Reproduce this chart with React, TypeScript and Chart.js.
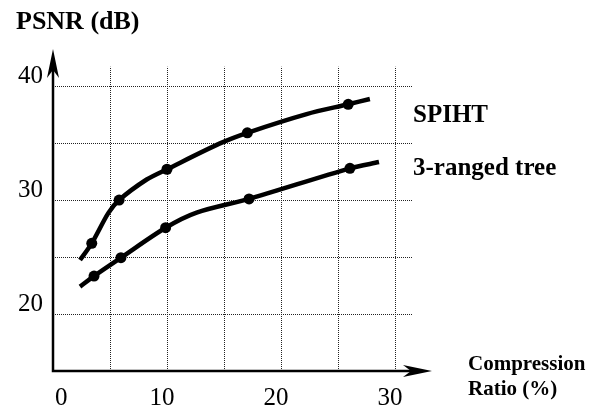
import React, { useEffect, useRef } from "react";
import { Chart, registerables } from "chart.js";

Chart.register(...registerables);

// ---- data ----
const seriesNames = ["SPIHT", "3-ranged tree"];
const spihtMarkersX = [3.4, 5.8, 10.0, 17.05, 25.9];
const spihtMarkersY = [26.2, 30.0, 32.7, 35.9, 38.4];
const spihtCurveX = [2.37, 3.4, 4.85, 5.8, 8.22, 10.0, 14.65, 17.05, 22.25, 25.9, 27.8];
const spihtCurveY = [24.74, 26.2, 28.85, 30.0, 31.8, 32.7, 34.97, 35.9, 37.54, 38.4, 38.86];
const treeMarkersX = [3.6, 5.96, 9.88, 17.2, 26.05];
const treeMarkersY = [23.33, 24.94, 27.57, 30.1, 32.78];
const treeCurveX = [2.37, 3.6, 5.96, 9.88, 12.6, 17.2, 26.05, 28.6];
const treeCurveY = [22.4, 23.33, 24.94, 27.57, 28.9, 30.1, 32.78, 33.33];
const xTickLabels = [0, 10, 20, 30];
const yTickLabels = [20, 30, 40];
const gridXValues = [5, 10, 15, 20, 25, 30];
const gridYValues = [20, 25, 30, 35, 40];
const xMin = 0;
const xMax = 33.25;
const yMin = 15;
const yMax = 43.25;
const gridXEnd = 31.5;
const gridYEnd = 41.7;
const yTitle = "PSNR (dB)";
const xTitleLines = ["Compression", "Ratio (%)"];

const SERIF = "'Liberation Serif', 'Times New Roman', Times, serif";

const toPts = (xs: number[], ys: number[]) => xs.map((v, i) => ({ x: v, y: ys[i] }));

const decorPlugin = {
  id: "decor",
  beforeDatasetsDraw(chart: any) {
    const { ctx, scales } = chart;
    const x = scales.x;
    const y = scales.y;
    ctx.save();
    ctx.setLineDash([1, 1]);
    ctx.strokeStyle = "#222";
    ctx.lineWidth = 1;
    gridXValues.forEach((gx) => {
      const px = Math.round(x.getPixelForValue(gx)) + 0.5;
      ctx.beginPath();
      ctx.moveTo(px, y.getPixelForValue(yMin));
      ctx.lineTo(px, y.getPixelForValue(gridYEnd));
      ctx.stroke();
    });
    gridYValues.forEach((gy) => {
      const py = Math.round(y.getPixelForValue(gy)) + 0.5;
      ctx.beginPath();
      ctx.moveTo(x.getPixelForValue(xMin), py);
      ctx.lineTo(x.getPixelForValue(gridXEnd), py);
      ctx.stroke();
    });
    ctx.restore();
  },
  afterDraw(chart: any) {
    const { ctx, scales } = chart;
    const x = scales.x;
    const y = scales.y;
    const ox = x.getPixelForValue(xMin);
    const oy = y.getPixelForValue(yMin);
    const topY = y.getPixelForValue(yMax);
    const rightX = x.getPixelForValue(xMax);
    ctx.save();
    ctx.setLineDash([]);
    ctx.strokeStyle = "#000";
    ctx.fillStyle = "#000";
    ctx.lineWidth = 2.5;
    // axes
    ctx.beginPath();
    ctx.moveTo(ox, oy);
    ctx.lineTo(ox, topY + 20);
    ctx.moveTo(ox - 1.25, oy);
    ctx.lineTo(rightX - 20, oy);
    ctx.stroke();
    // y arrow
    ctx.beginPath();
    ctx.moveTo(ox, topY);
    ctx.lineTo(ox + 6, topY + 29);
    ctx.lineTo(ox, topY + 21);
    ctx.lineTo(ox - 6, topY + 29);
    ctx.closePath();
    ctx.fill();
    // x arrow
    ctx.beginPath();
    ctx.moveTo(rightX, oy);
    ctx.lineTo(rightX - 29, oy - 6);
    ctx.lineTo(rightX - 21, oy);
    ctx.lineTo(rightX - 29, oy + 6);
    ctx.closePath();
    ctx.fill();

    // tick labels
    ctx.font = `25px ${SERIF}`;
    ctx.textBaseline = "alphabetic";
    xTickLabels.forEach((v) => {
      const px = x.getPixelForValue(v);
      if (v === xMin) {
        ctx.textAlign = "left";
        ctx.fillText(String(v), px + 2, 405);
      } else {
        ctx.textAlign = "center";
        ctx.fillText(String(v), px - 5, 405);
      }
    });
    ctx.textAlign = "right";
    yTickLabels.forEach((v) => {
      const py = y.getPixelForValue(v);
      ctx.fillText(String(v), ox - 10, py - 3);
    });

    // titles
    ctx.font = `bold 26px ${SERIF}`;
    ctx.textAlign = "left";
    ctx.fillText(yTitle, 16, 29);

    ctx.font = `bold 21px ${SERIF}`;
    ctx.fillText(xTitleLines[0], 468, 370);
    ctx.fillText(xTitleLines[1], 468, 395);

    ctx.font = `bold 25px ${SERIF}`;
    ctx.fillText(seriesNames[0], 413, 122);
    ctx.fillText(seriesNames[1], 413, 175);
    ctx.restore();
  },
};

export default function App() {
  const ref = useRef<HTMLCanvasElement | null>(null);
  useEffect(() => {
    if (!ref.current) return;
    const lineStyle = {
      borderColor: "#000",
      borderWidth: 4.5,
      pointRadius: 0,
      showLine: true,
      fill: false,
      tension: 0.3,
      borderCapStyle: "butt" as const,
      borderJoinStyle: "round" as const,
    };
    const markerStyle = {
      borderColor: "#000",
      backgroundColor: "#000",
      pointRadius: 5.5,
      pointBorderWidth: 0,
      showLine: false,
    };
    const chart = new Chart(ref.current, {
      type: "line",
      data: {
        datasets: [
          { label: seriesNames[0], data: toPts(spihtCurveX, spihtCurveY), ...lineStyle },
          { label: seriesNames[1], data: toPts(treeCurveX, treeCurveY), ...lineStyle },
          { label: seriesNames[0] + " pts", data: toPts(spihtMarkersX, spihtMarkersY), ...markerStyle },
          { label: seriesNames[1] + " pts", data: toPts(treeMarkersX, treeMarkersY), ...markerStyle },
        ] as any,
      },
      options: {
        responsive: false,
        animation: false,
        devicePixelRatio: 1,
        layout: { padding: { left: 53, right: 160, top: 49, bottom: 38 } },
        plugins: { legend: { display: false }, tooltip: { enabled: false } },
        scales: {
          x: { type: "linear", min: xMin, max: xMax, display: false },
          y: { type: "linear", min: yMin, max: yMax, display: false },
        },
      },
      plugins: [decorPlugin],
    });
    return () => chart.destroy();
  }, []);
  return (
    <div style={{ position: "fixed", left: 0, top: 0, width: 592, height: 409, background: "#fff" }}>
      <canvas ref={ref} width={592} height={409} style={{ display: "block" }} />
    </div>
  );
}
